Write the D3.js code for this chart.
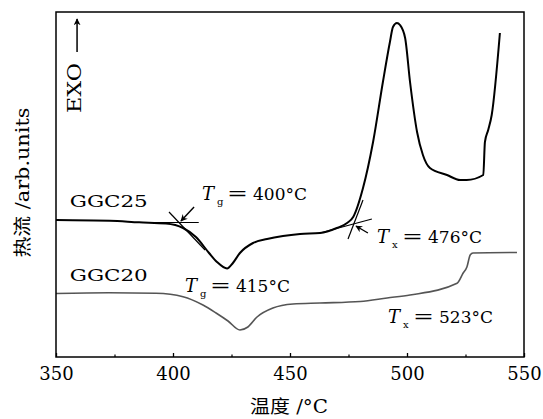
<!DOCTYPE html>
<html>
<head>
<meta charset="utf-8">
<script src="https://cdnjs.cloudflare.com/ajax/libs/d3/7.8.5/d3.min.js"></script>
<style>
  body { margin: 0; background: #fff; }
  text { font-family: "DejaVu Serif", "Noto Sans CJK SC", serif; fill: #000; }
</style>
</head>
<body>
<div id="chart"></div>
<script>
// temperature (°C) and heat flow (arb. units)
const ggc25Temp = [350, 373, 385.5, 397, 404.3, 409.8, 415.4, 418.8, 423.1, 425.6, 428.6, 434.2, 440.2, 447, 454.3, 462.8, 470, 474.4, 477, 481.2, 485.5, 489.7, 492.7, 494, 495.7, 497, 499.2, 501.3, 504.3, 506.8, 509.8, 517.1, 522.7, 525.5, 532.6, 533.3, 534.7, 536.2, 539.7];
const ggc25Flow = [137, 136.3, 134.7, 133.5, 129, 120, 104, 95, 88.5, 94, 104, 114, 118, 121, 123, 124, 129, 134, 140, 169, 215, 275, 315, 330, 334, 332, 319, 275, 225, 202, 189, 182, 177, 177, 182, 215, 227, 242, 324];
const ggc20Temp = [350, 372.6, 392.7, 404.3, 412.8, 418.4, 423.5, 428.6, 432, 435.9, 442.7, 451.3, 462.8, 480, 491.5, 501.3, 521.4, 524, 525.6, 527, 528.2, 547];
const ggc20Flow = [63.5, 64.3, 63.7, 60.3, 52, 44, 36, 27, 30, 40, 49, 53, 54, 55.5, 59, 62, 73.7, 84, 90, 102, 104, 104.5];

const xTicks = [350, 400, 450, 500, 550];
const xMinorTicks = [375, 425, 475, 525];

// tangent constructions [[T, flow], [T, flow]]
const tangents = [
  [[390, 134.5], [411, 134.5]],
  [[398.3, 145], [413.7, 107]],
  [[462.8, 124], [485, 138]],
  [[474.8, 118], [481.2, 157]]
];
const arrows = [
  [[409, 150], [403.4, 136]],
  [[483.3, 124], [478.2, 131]]
];

const width = 543, height = 419;
const margin = { top: 12, right: 19, bottom: 62, left: 56 };
const innerWidth = width - margin.left - margin.right;
const innerHeight = height - margin.top - margin.bottom;

const svg = d3.select('#chart')
  .append('svg')
  .attr('width', width)
  .attr('height', height);

svg.append('defs').append('marker')
  .attr('id', 'head')
  .attr('viewBox', '0 0 10 10')
  .attr('refX', 9).attr('refY', 5)
  .attr('markerWidth', 7).attr('markerHeight', 7)
  .attr('markerUnits', 'userSpaceOnUse')
  .attr('orient', 'auto')
  .append('path')
  .attr('d', 'M0,0 L10,5 L0,10 L3,5 Z')
  .attr('fill', '#000');

const g = svg.append('g')
  .attr('transform', `translate(${margin.left},${margin.top})`);

const x = d3.scaleLinear().domain([350, 550]).range([0, innerWidth]);
const y = d3.scaleLinear().domain([0, 345]).range([innerHeight, 0]);

// text stretched horizontally to a target width (the source font is wide)
function wideText(parent, str, px, py, size, target, { anchor = 'start', rotate = 0 } = {}) {
  const holder = parent.append('g')
    .attr('transform', `translate(${px},${py}) rotate(${rotate})`);
  const t = holder.append('text')
    .attr('font-size', size)
    .attr('text-anchor', anchor)
    .text(str);
  const w = t.node().getComputedTextLength();
  t.attr('transform', `scale(${target / w},1)`);
  return t;
}

const line = d3.line()
  .x(d => x(d[0]))
  .y(d => y(d[1]))
  .curve(d3.curveMonotoneX);

// curves
g.append('path')
  .datum(d3.zip(ggc20Temp, ggc20Flow))
  .attr('d', line)
  .attr('fill', 'none')
  .attr('stroke', '#555')
  .attr('stroke-width', 1.6);

g.append('path')
  .datum(d3.zip(ggc25Temp, ggc25Flow))
  .attr('d', line)
  .attr('fill', 'none')
  .attr('stroke', '#000')
  .attr('stroke-width', 2);

// tangent lines and arrows
const straight = d3.line().x(d => x(d[0])).y(d => y(d[1]));
tangents.forEach(t => {
  g.append('path').attr('d', straight(t))
    .attr('stroke', '#000').attr('stroke-width', 1.2).attr('fill', 'none');
});
arrows.forEach(a => {
  g.append('path').attr('d', straight(a))
    .attr('stroke', '#000').attr('stroke-width', 1.4).attr('fill', 'none')
    .attr('marker-end', 'url(#head)');
});

// x axis, ticks pointing inward
g.append('g')
  .attr('transform', `translate(0,${innerHeight})`)
  .call(d3.axisBottom(x).tickValues(xTicks).tickSize(-4).tickPadding(10))
  .attr('font-family', null)
  .attr('font-size', 18)
  .call(a => a.select('.domain').remove())
  .call(a => a.selectAll('line').attr('stroke-width', 1.3));

g.append('g')
  .attr('transform', `translate(0,${innerHeight})`)
  .call(d3.axisBottom(x).tickValues(xMinorTicks).tickSize(-2.5).tickFormat(''))
  .call(a => a.select('.domain').remove())
  .call(a => a.selectAll('line').attr('stroke-width', 1.2));

// frame
g.append('rect')
  .attr('width', innerWidth)
  .attr('height', innerHeight)
  .attr('fill', 'none')
  .attr('stroke', '#000')
  .attr('stroke-width', 1.5);

// axis titles
wideText(svg, '温度 /°C', margin.left + x(450) - 1, 413, 18, 78, { anchor: 'middle' });
wideText(svg, '热流 /arb.units', 29, margin.top + innerHeight / 2 - 2, 18, 150, { anchor: 'middle', rotate: -90 });

// EXO marker
wideText(g, 'EXO', x(360.8), y(244), 18, 50, { rotate: -90 });
g.append('path')
  .attr('d', straight([[359, 305], [359, 338]]))
  .attr('stroke', '#000').attr('stroke-width', 1.5)
  .attr('marker-end', 'url(#head)');

// sample names
[['GGC25', 355.9, 150], ['GGC20', 355.9, 76]].forEach(([name, t, v]) => {
  wideText(g, name, x(t), y(v), 17, 78);
});

// Tg / Tx labels
const labels = [
  ['g', '400', 412.4, 157],
  ['x', '476', 487.2, 114],
  ['g', '415', 405.1, 65],
  ['x', '523', 491.9, 34]
];
labels.forEach(([sub, val, t, v]) => {
  const lab = g.append('g').attr('transform', `translate(${x(t)},${y(v)})`);
  lab.append('text').attr('font-size', 18).attr('font-style', 'italic').text('T');
  lab.append('text').attr('x', 15).attr('y', 5).attr('font-size', 10).text(sub);
  wideText(lab, '=', 25, 0, 18, 21);
  wideText(lab, val + '°C', 51, 0, 17, 54);
});
</script>
</body>
</html>
